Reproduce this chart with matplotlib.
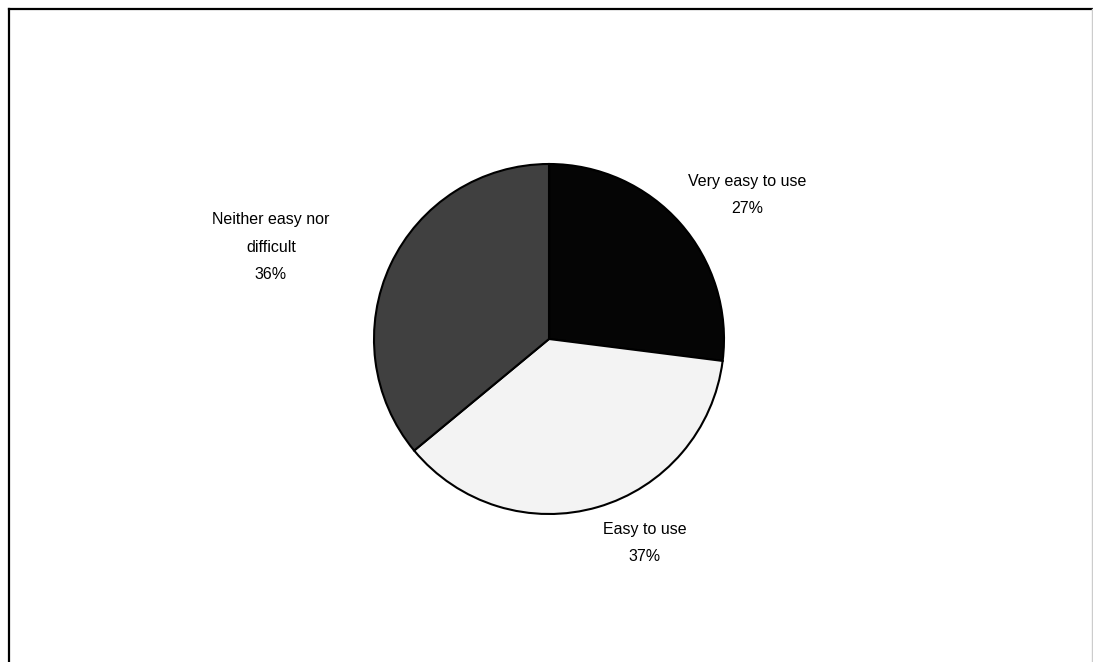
import matplotlib
matplotlib.use("Agg")
import matplotlib.pyplot as plt
from matplotlib.lines import Line2D

categories = ["Very easy to use", "Easy to use", "Neither easy nor\ndifficult"]
values = [27, 37, 36]
colors = ["#050505", "#f3f3f3", "#404040"]

W, H = 1093, 662
fig = plt.figure(figsize=(W / 100, H / 100), dpi=100)
ax = fig.add_axes([0, 0, 1, 1])

cx, cy, r = 549, H - 339, 175
ax.pie(values, colors=colors, startangle=90, counterclock=False,
       center=(cx, cy), radius=r, frame=True,
       wedgeprops=dict(edgecolor="black", linewidth=1.5))
ax.set_xlim(0, W)
ax.set_ylim(0, H)
ax.set_aspect("equal")
ax.axis("off")

label_pos = [(747, H - 195), (645, H - 543), (271, H - 247)]
for (x, y), cat, v in zip(label_pos, categories, values):
    ax.text(x, y, f"{cat}\n{v}%", ha="center", va="center",
            fontsize=11.5, family="Liberation Sans", linespacing=2.05)

# frame lines
fig.add_artist(Line2D([8.5 / W, 8.5 / W], [0, 1 - 8.5 / H], transform=fig.transFigure,
                      color="black", linewidth=1.6))
fig.add_artist(Line2D([8.5 / W, 1], [1 - 8.5 / H, 1 - 8.5 / H], transform=fig.transFigure,
                      color="black", linewidth=1.6))
fig.add_artist(Line2D([1091.5 / W, 1091.5 / W], [0, 1 - 8.5 / H], transform=fig.transFigure,
                      color="#cccccc", linewidth=1.0))

fig.savefig("out.png", dpi=100)
